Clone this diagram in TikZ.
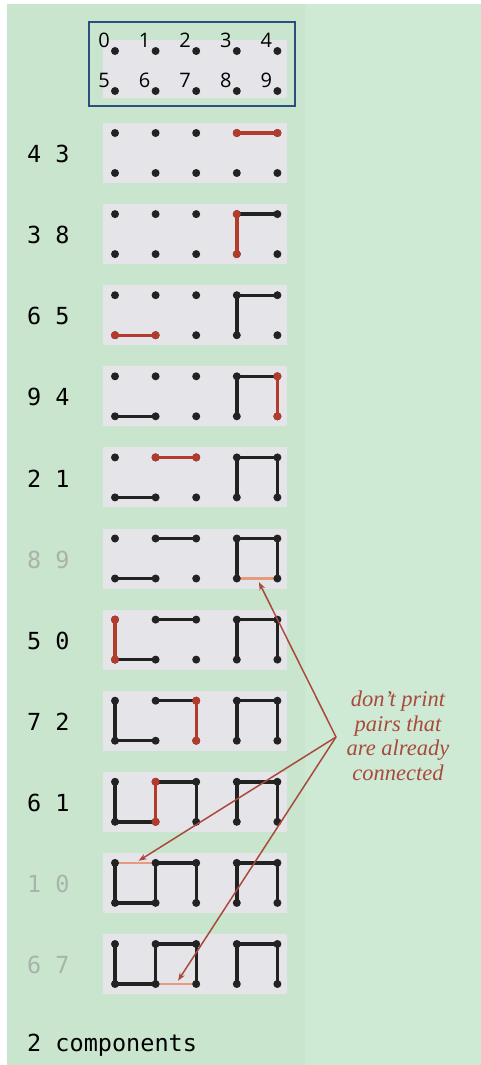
\documentclass[tikz,border=0pt]{standalone}
\usepackage{fontspec}
\usetikzlibrary{arrows.meta}
\newfontfamily\pairfam{DejaVu Sans Mono}
\newfontfamily\idfam{Open Sans}
\newfontfamily\notefam{Liberation Serif}
\newcommand\pairfont{\pairfam\fontsize{23.5bp}{28bp}\selectfont}
\newcommand\idfont{\idfam\fontsize{20bp}{23bp}\selectfont}
\newcommand\notefont{\notefam\itshape\fontsize{22.5bp}{24.5bp}\selectfont}
\definecolor{bgleft}{HTML}{C9E5CD}
\definecolor{bgright}{HTML}{CFEAD4}
\definecolor{panelgray}{HTML}{E5E5E9}
\definecolor{dotblack}{HTML}{222222}
\definecolor{newred}{HTML}{B23B2B}
\definecolor{skiporange}{HTML}{E69A7E}
\definecolor{notered}{HTML}{A84A3C}
\definecolor{pairgray}{HTML}{AAB3AB}
\definecolor{boxblue}{HTML}{2A4F7C}
% k / p / q / fresh union? / label colour
\def\unionlist{0/4/3/1/black, 1/3/8/1/black, 2/6/5/1/black, 3/9/4/1/black,
  4/2/1/1/black, 5/8/9/0/pairgray, 6/5/0/1/black, 7/7/2/1/black,
  8/6/1/1/black, 9/1/0/0/pairgray, 10/6/7/0/pairgray}
\begin{document}
\begin{tikzpicture}[x=1bp,y=-1bp,
panel/.style={fill=panelgray},
dot/.style={circle,fill=dotblack,inner sep=0pt,minimum size=8bp},
reddot/.style={dot,fill=newred},
oldedge/.style={draw=dotblack,line width=3.4bp},
newedge/.style={draw=newred,line width=3.4bp},
skipedge/.style={draw=skiporange,line width=2.6bp},
pairlabel/.style={anchor=west,inner sep=0pt,font=\pairfont},
idlabel/.style={inner sep=0pt,font=\idfont},
notetext/.style={align=center,inner sep=0pt,font=\notefont,text=notered},
note/.style={draw=notered,line width=1.5bp,shorten >=4bp,-{Stealth[length=8bp,width=6bp]}}
]
\useasboundingbox (0,0) rectangle (481,1065);
\fill[white] (0,0) rectangle (481,1065);
\fill[bgleft] (7,4) rectangle (305,1065);
\fill[bgright] (305,4) rectangle (481,1065);

% the ten sites
\fill[panel] (103,40) rectangle (287,98);
\foreach \i in {0,...,9}{
  \pgfmathsetmacro\cx{115+40.6*mod(\i,5)}
  \pgfmathsetmacro\cy{51+40*int(\i/5)}
  \node[dot] (t\i) at (\cx,\cy) {};
  \node[idlabel] (id\i) at ([shift={(-11,-11)}]t\i) {\i};
}
\draw[boxblue,line width=2.2bp] (89,22) rectangle (295,106);

% one frame for each input pair
\foreach \k/\p/\q/\fresh/\lc in \unionlist{
  \pgfmathsetmacro\ytop{133+81.1*\k}
  \fill[panel] (103,\ytop-10) rectangle (287,\ytop+50);
  \node[pairlabel,text=\lc] (pair\k) at (27,\ytop+21) {\p\ \q};
  \foreach \i in {0,...,9}{
    \pgfmathsetmacro\cx{115+40.6*mod(\i,5)}
    \pgfmathsetmacro\cy{\ytop+40*int(\i/5)}
    \coordinate (r\k-\i) at (\cx,\cy);
  }
  \foreach \j/\a/\b/\f/\c in \unionlist{
    \ifnum\j<\k\relax \ifnum\f=1 \draw[oldedge] (r\k-\a) -- (r\k-\b);\fi\fi
  }
  \ifnum\fresh=0 \draw[skipedge] (r\k-\p) -- coordinate (m\k) (r\k-\q);\fi
  \foreach \i in {0,...,9}{
    \node[dot] (d\k-\i) at (r\k-\i) {};
  }
  \ifnum\fresh=1
    \draw[newedge] (r\k-\p) -- (r\k-\q);
    \node[reddot] (hp\k) at (r\k-\p) {};
    \node[reddot] (hq\k) at (r\k-\q) {};
  \fi
}

\node[notetext] (note) at (398,736) {don’t print\\pairs that\\are already\\connected};
\coordinate (fork) at (336,737);
\draw[note] (fork) -- (m5);
\draw[note] (fork) -- (m9);
\draw[note] (fork) -- (m10);

\node[pairlabel,anchor=base west] (total) at (27,1051) {2 components};
\end{tikzpicture}
\end{document}
